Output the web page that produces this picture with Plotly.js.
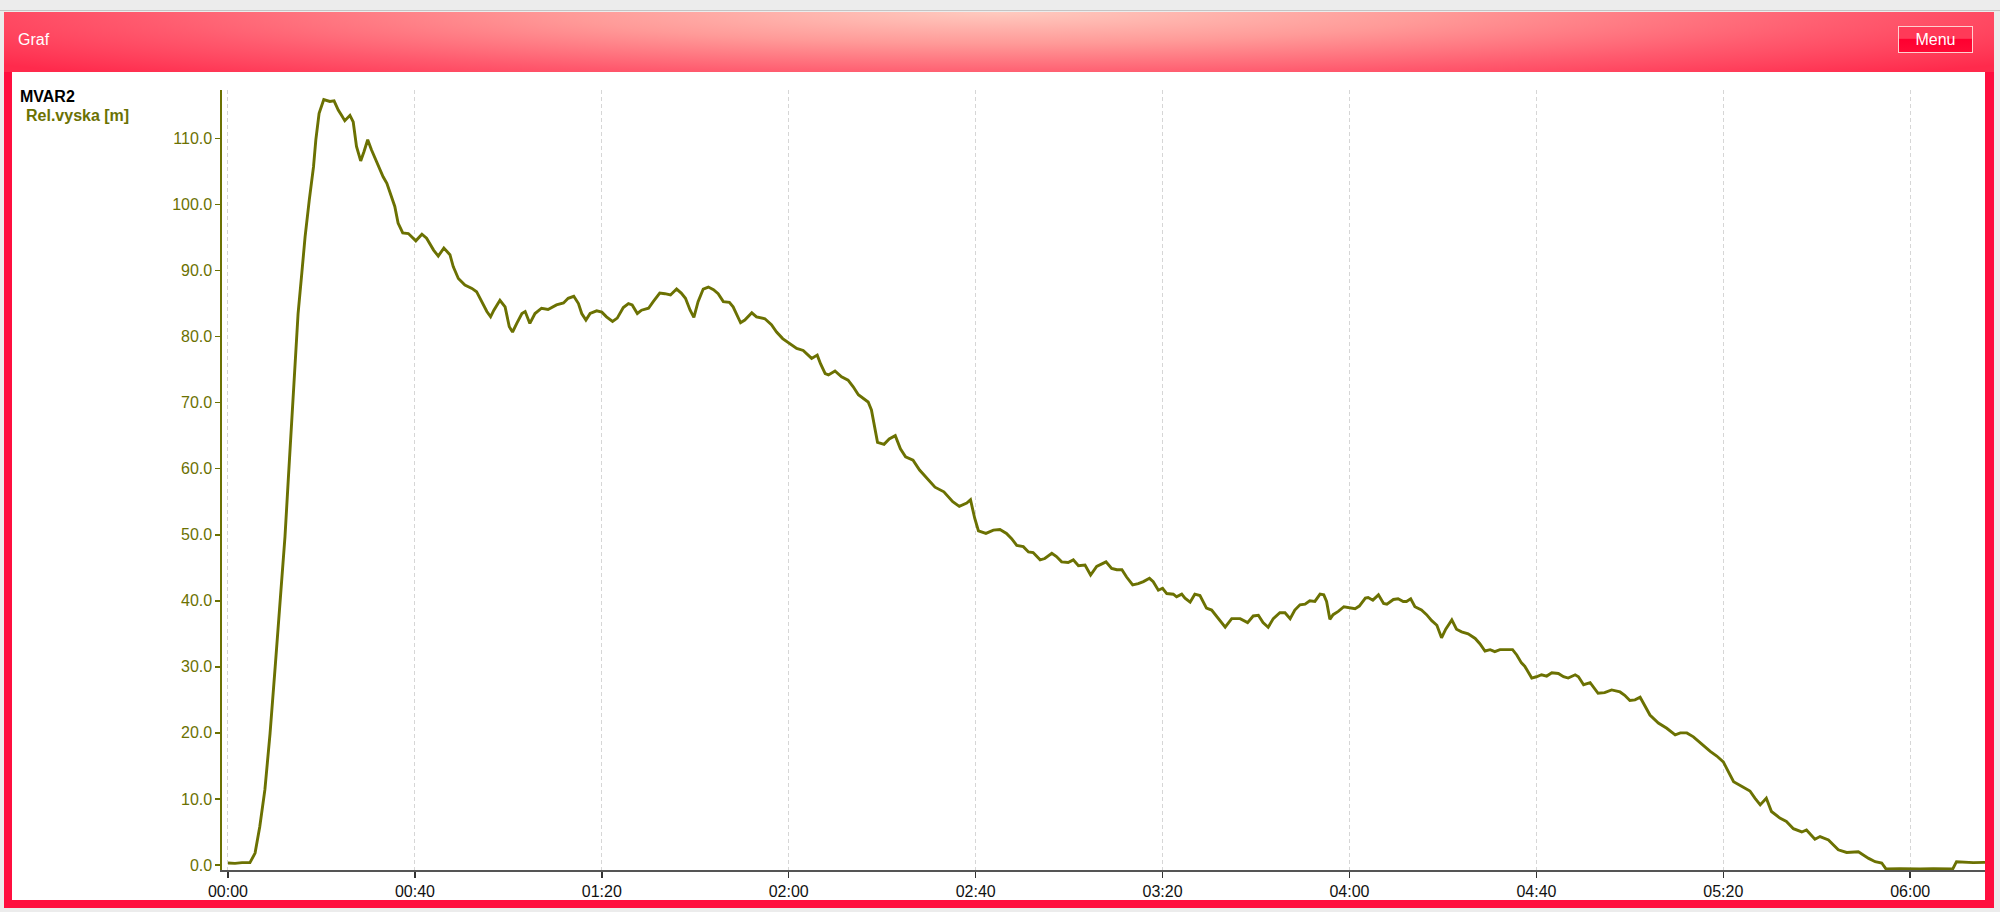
<!DOCTYPE html>
<html>
<head>
<meta charset="utf-8">
<script src="https://cdn.plot.ly/plotly-3.0.1.min.js"></script>
<style>
  html, body { margin: 0; padding: 0; width: 2000px; height: 912px; overflow: hidden; background: #ececec; font-family: "Liberation Sans", Arial, sans-serif; }
  #topline { position: absolute; left: 0; top: 10px; width: 2000px; height: 1px; background: #c4c4c4; }
  #panel { position: absolute; left: 4px; top: 12px; width: 1990px; height: 896px; background: #ff0f3f; }
  #header { position: absolute; left: 4px; top: 12px; width: 1990px; height: 60px;
    background: radial-gradient(ellipse 62% 150% at 50% 0%, #ffcabf 0%, #ff9a98 35%, #ff5a6e 70%, #ff2a4c 100%); }
  #title { position: absolute; left: 18px; top: 30px; color: #ffffff; font-size: 16px; line-height: 20px; }
  #menu { position: absolute; left: 1898px; top: 26px; width: 73px; height: 25px; border: 1px solid #ffd0d0;
    background: linear-gradient(to bottom, #ff3a58 0%, #ff3a58 45%, #ff0030 50%, #ff0a36 100%);
    color: #ffffff; font-size: 16px; line-height: 25px; text-align: center; }
  #content { position: absolute; left: 12px; top: 72px; width: 1973px; height: 828px; background: #ffffff; }
  #chart { position: absolute; left: 0; top: 0; width: 2000px; height: 912px; }
</style>
</head>
<body>
<div id="topline"></div>
<div id="panel"></div>
<div id="header"></div>
<div id="title">Graf</div>
<div id="menu">Menu</div>
<div id="content"></div>
<div id="chart"></div>
<script>
// time in seconds since start
const timeSec = [
  0, 1.5, 3.0, 4.7, 5.8, 6.8, 7.9, 9.0, 10.1, 11.1, 12.2, 12.9, 13.6, 14.3, 15.0, 15.8, 16.5, 17.4, 18.3, 18.8,
  19.5, 20.5, 21.1, 21.8, 22.7, 23.6, 24.3, 25.0, 26.1, 26.8, 27.5, 28.4, 29.1, 29.9, 30.7, 31.5, 32.5, 33.2, 34.0, 35.0,
  35.7, 36.4, 37.4, 38.6, 39.3, 40.2, 41.5, 42.5, 44.0, 45.0, 46.2, 47.5, 48.2, 49.3, 50.7, 52.2, 53.2, 54.3, 55.4, 56.2,
  56.9, 58.2, 59.3, 60.2, 60.9, 61.8, 62.9, 63.6, 64.6, 65.7, 67.1, 68.5, 70.3, 71.8, 72.8, 74.0, 75.0, 75.7, 76.6, 77.5,
  78.9, 80.0, 81.0, 82.3, 83.3, 84.6, 85.7, 86.5, 87.6, 88.5, 90.0, 91.0, 92.4, 93.5, 94.7, 96.0, 97.0, 97.9, 98.9, 99.7,
  100.6, 101.7, 102.8, 103.9, 104.9, 106.0, 107.3, 108.1, 108.8, 109.7, 110.6, 112.1, 113.1, 114.9, 116.3, 117.4, 118.7, 120.0, 121.7, 123.1,
  124.9, 126.1, 126.8, 127.8, 128.5, 129.9, 131.3, 132.7, 133.8, 134.9, 136.0, 137.0, 137.7, 138.4, 139.0, 140.4, 141.5, 142.8, 143.9, 145.0,
  146.6, 148.0, 149.6, 151.3, 153.2, 155.1, 156.5, 158.1, 158.9, 159.8, 160.6, 162.2, 163.8, 165.2, 166.6, 167.7, 168.8, 170.2, 171.3, 172.3,
  173.8, 174.8, 176.3, 177.3, 178.4, 179.8, 180.9, 182.0, 183.4, 184.6, 185.9, 187.9, 189.1, 190.2, 191.3, 192.3, 193.6, 194.8, 195.9, 197.2,
  198.0, 199.1, 200.0, 200.9, 202.3, 203.0, 204.1, 204.8, 205.9, 206.9, 208.0, 209.4, 210.5, 211.9, 213.4, 214.8, 216.6, 218.2, 219.4, 220.5,
  221.5, 222.6, 223.7, 225.1, 226.2, 227.3, 228.3, 229.4, 230.5, 231.5, 232.6, 233.7, 234.5, 235.1, 235.8, 236.5, 237.6, 238.8, 240.0, 241.2,
  242.1, 243.4, 244.0, 245.0, 246.2, 247.3, 248.0, 249.4, 250.4, 251.5, 252.2, 253.1, 254.0, 255.4, 256.5, 257.6, 258.7, 259.7, 260.6, 261.9,
  262.9, 264.0, 265.4, 266.9, 267.9, 269.0, 270.1, 271.1, 272.2, 274.9, 275.8, 276.8, 277.5, 279.0, 280.0, 281.1, 282.2, 283.3, 284.7, 285.8,
  286.8, 288.3, 289.0, 290.1, 291.5, 293.2, 294.6, 296.1, 297.9, 298.9, 300.0, 301.1, 302.2, 303.2, 304.3, 306.1, 307.9, 309.7, 310.8, 312.2,
  313.6, 315.4, 317.2, 318.6, 320.0, 321.1, 322.2, 324.0, 325.7, 326.8, 327.9, 329.2, 330.3, 332.1, 333.5, 335.0, 336.8, 337.8, 339.6, 340.7,
  342.5, 344.6, 346.4, 348.9, 351.1, 352.5, 353.9, 354.8, 357.8, 362.1, 364.9, 369.1, 369.9, 373.5, 376.0
];

// relative height [m]
const relVyska = [
  0.3, 0.25, 0.35, 0.35, 1.8, 5.8, 11.4, 19.9, 30.0, 39.6, 49.7, 58.3, 66.4, 74.4, 83.5, 89.6, 95.1, 100.7, 105.7, 109.8,
  113.8, 115.9, 115.8, 115.6, 115.7, 114.3, 113.5, 112.7, 113.5, 112.5, 108.8, 106.6, 108.0, 109.8, 108.3, 107.0, 105.5, 104.2, 103.2, 101.2,
  99.7, 97.2, 95.7, 95.6, 95.1, 94.5, 95.5, 94.9, 93.1, 92.2, 93.4, 92.4, 90.6, 88.8, 87.8, 87.3, 86.8, 85.3, 83.8, 83.0,
  84.0, 85.5, 84.5, 81.5, 80.7, 82.0, 83.5, 83.8, 82.0, 83.5, 84.3, 84.1, 84.8, 85.1, 85.8, 86.1, 85.0, 83.5, 82.5, 83.5,
  83.9, 83.7, 83.0, 82.3, 82.8, 84.4, 85.0, 84.8, 83.5, 84.0, 84.3, 85.3, 86.6, 86.5, 86.3, 87.2, 86.6, 85.8, 84.0, 82.9,
  85.3, 87.2, 87.5, 87.1, 86.5, 85.3, 85.2, 84.5, 83.5, 82.1, 82.5, 83.6, 83.0, 82.7, 81.8, 80.7, 79.7, 79.0, 78.2, 77.9,
  76.7, 77.2, 75.9, 74.4, 74.2, 74.8, 73.9, 73.4, 72.4, 71.2, 70.6, 70.1, 68.9, 66.0, 64.0, 63.7, 64.5, 65.0, 63.0, 61.8,
  61.3, 59.8, 58.5, 57.2, 56.5, 55.0, 54.3, 54.8, 55.3, 52.5, 50.6, 50.2, 50.7, 50.8, 50.2, 49.4, 48.4, 48.2, 47.4, 47.3,
  46.2, 46.4, 47.2, 46.7, 45.9, 45.8, 46.2, 45.3, 45.4, 43.9, 45.2, 45.9, 44.9, 44.7, 44.7, 43.6, 42.4, 42.6, 42.9, 43.4,
  42.9, 41.6, 41.9, 41.1, 41.0, 40.6, 41.0, 40.4, 39.8, 41.0, 40.8, 38.9, 38.6, 37.3, 36.0, 37.3, 37.3, 36.7, 37.7, 37.8,
  36.7, 36.0, 37.3, 38.2, 38.2, 37.3, 38.6, 39.4, 39.5, 40.0, 39.9, 41.0, 40.9, 39.9, 37.2, 37.9, 38.4, 39.1, 39.0, 38.8,
  39.2, 40.4, 40.5, 40.1, 40.9, 39.6, 39.5, 40.2, 40.3, 39.9, 39.9, 40.3, 39.1, 38.6, 37.9, 37.0, 36.3, 34.4, 35.7, 37.1,
  35.7, 35.3, 35.0, 34.3, 33.5, 32.4, 32.6, 32.3, 32.6, 32.6, 31.8, 30.6, 30.1, 28.3, 28.5, 28.8, 28.6, 29.1, 29.0, 28.5,
  28.3, 28.8, 28.5, 27.3, 27.6, 26.0, 26.1, 26.5, 26.2, 25.7, 24.9, 25.0, 25.4, 24.0, 22.7, 21.5, 20.7, 19.7, 20.0, 20.0,
  19.4, 18.3, 17.2, 16.5, 15.6, 14.1, 12.6, 11.9, 11.2, 10.1, 9.1, 10.1, 8.1, 7.1, 6.6, 5.5, 5.0, 5.3, 3.9, 4.3,
  3.8, 2.3, 1.9, 2.0, 1.0, 0.5, 0.3, -0.6, -0.55, -0.6, -0.55, -0.6, 0.5, 0.35, 0.4
];

const xTickVals = [0, 40, 80, 120, 160, 200, 240, 280, 320, 360];
const xTickLabels = ["00:00", "00:40", "01:20", "02:00", "02:40", "03:20", "04:00", "04:40", "05:20", "06:00"];
const yTickVals = [0, 10, 20, 30, 40, 50, 60, 70, 80, 90, 100, 110];
const yTickLabels = ["0.0", "10.0", "20.0", "30.0", "40.0", "50.0", "60.0", "70.0", "80.0", "90.0", "100.0", "110.0"];

const seriesGroup = "MVAR2";
const seriesName = "Rel.vyska [m]";

const OLIVE = "#6b7102";
const FONT = "Liberation Sans, Arial, sans-serif";

const L = 222, R = 15, T = 90, B = 42;
const plotW = 2000 - L - R, plotH = 912 - T - B;
function paperX(px) { return (px - L) / plotW; }
function paperY(py) { return (912 - B - py) / plotH; }

const trace = {
  x: timeSec,
  y: relVyska,
  type: "scatter",
  mode: "lines",
  line: { color: OLIVE, width: 2.9 },
  name: seriesName,
  showlegend: false,
  hoverinfo: "skip"
};

const layout = {
  width: 2000,
  height: 912,
  margin: { l: L, r: R, t: T, b: B, pad: 0 },
  paper_bgcolor: "rgba(0,0,0,0)",
  plot_bgcolor: "rgba(0,0,0,0)",
  font: { family: FONT, size: 16, color: "#000" },
  showlegend: false,
  xaxis: {
    range: [-1.28, 376.0],
    tickmode: "array",
    tickvals: xTickVals,
    ticktext: xTickLabels,
    showgrid: true,
    gridcolor: "#d6d6d6",
    gridwidth: 1,
    griddash: "4px,3px",
    zeroline: false,
    showline: true,
    linecolor: "#555555",
    linewidth: 1.5,
    ticks: "outside",
    ticklen: 6,
    tickwidth: 1.5,
    tickcolor: "#333333",
    tickfont: { family: FONT, size: 16, color: "#111111" },
    fixedrange: true
  },
  yaxis: {
    range: [-0.76, 117.34],
    tickmode: "array",
    tickvals: yTickVals,
    ticktext: yTickLabels,
    showgrid: false,
    zeroline: false,
    showline: true,
    linecolor: OLIVE,
    linewidth: 1.6,
    ticks: "outside",
    ticklen: 5,
    tickwidth: 1.5,
    tickcolor: OLIVE,
    tickfont: { family: FONT, size: 16, color: OLIVE },
    fixedrange: true
  },
  annotations: [
    { text: "<b>" + seriesGroup + "</b>", xref: "paper", yref: "paper", x: paperX(18), y: paperY(97),
      xanchor: "left", yanchor: "middle", showarrow: false, font: { family: FONT, size: 16, color: "#000000" } },
    { text: "<b>" + seriesName + "</b>", xref: "paper", yref: "paper", x: paperX(24), y: paperY(115),
      xanchor: "left", yanchor: "middle", showarrow: false, font: { family: FONT, size: 16, color: OLIVE } }
  ]
};

Plotly.newPlot("chart", [trace], layout, { staticPlot: true, displayModeBar: false });
</script>
</body>
</html>
